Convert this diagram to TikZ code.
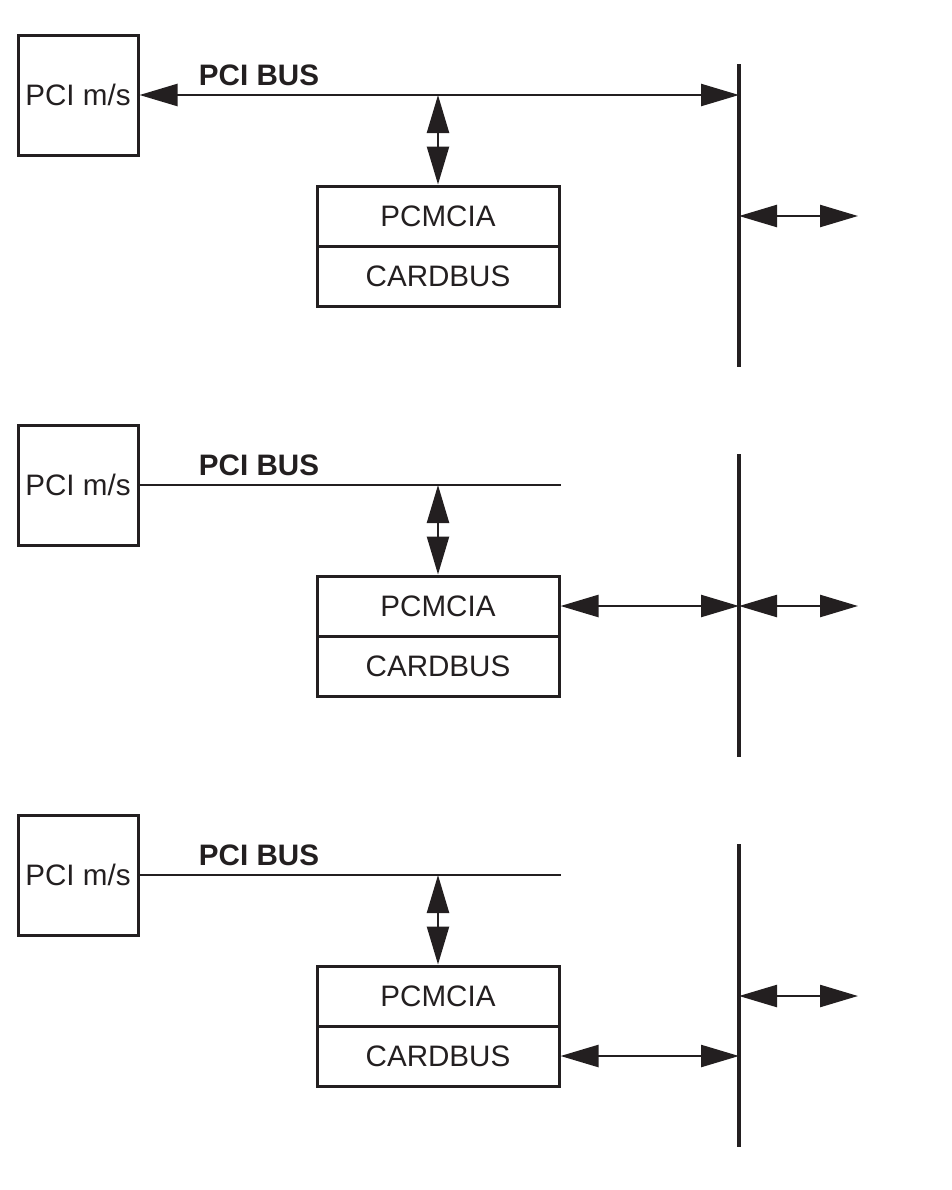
\documentclass[tikz,border=0pt]{standalone}
\usepackage{fontspec}
\setmainfont{Liberation Sans}
\usetikzlibrary{arrows.meta}

\definecolor{ink}{HTML}{231F20}

\tikzset{
  hostbox/.style={draw=ink,line width=1.5pt,minimum width=60pt,minimum height=60pt,inner sep=0pt},
  cardbox/.style={draw=ink,line width=1.5pt,minimum width=121pt,minimum height=30pt,inner sep=0pt},
  buslabel/.style={font=\fontsize{14.8}{17}\selectfont\bfseries,inner sep=0pt},
  busline/.style={draw=ink,line width=1.2pt},
  link/.style={busline,{Triangle[length=19pt 0,width=11pt 0]}-{Triangle[length=19pt 0,width=11pt 0]}},
  bar/.style={draw=ink,line width=2pt}
}

\begin{document}
\begin{tikzpicture}
  [x=0.5pt,y=-0.5pt,every node/.style={text=ink,font=\fontsize{14.8}{17}\selectfont}]
  \useasboundingbox (0,0) rectangle (952,1190);

  % the three panels share these parts
  \foreach \p/\dy in {1/0,2/390,3/780} {
    \node[hostbox] (pci\p) at (78,95+\dy) {PCI m/s};
    \node[buslabel] (bus\p) at (259,75+\dy) {PCI BUS};
    \node[cardbox] (pcmcia\p) at (438,216+\dy) {PCMCIA};
    \node[cardbox] (cardbus\p) at (438,276+\dy) {CARDBUS};
    \coordinate (bartop\p) at (739,64+\dy);
    \coordinate (barbot\p) at (739,367+\dy);
    \coordinate (out\p) at (858,216+\dy);

    \draw[bar] (bartop\p) -- (barbot\p);
    \draw[link] (pcmcia\p.north |- pci\p.east) -- (pcmcia\p.north);
    \draw[link] (bartop\p |- pcmcia\p) -- (out\p);
  }

  % panel 1: bus runs to the bar
  \draw[link] (pci1.east) -- (bartop1 |- pci1.east);

  % panel 2: bus stops, PCMCIA goes to the bar
  \draw[busline] (pci2.east) -- (pcmcia2.east |- pci2.east);
  \draw[link] (pcmcia2.east) -- (bartop2 |- pcmcia2.east);

  % panel 3: bus stops, CARDBUS goes to the bar
  \draw[busline] (pci3.east) -- (pcmcia3.east |- pci3.east);
  \draw[link] (cardbus3.east) -- (bartop3 |- cardbus3.east);
\end{tikzpicture}
\end{document}
